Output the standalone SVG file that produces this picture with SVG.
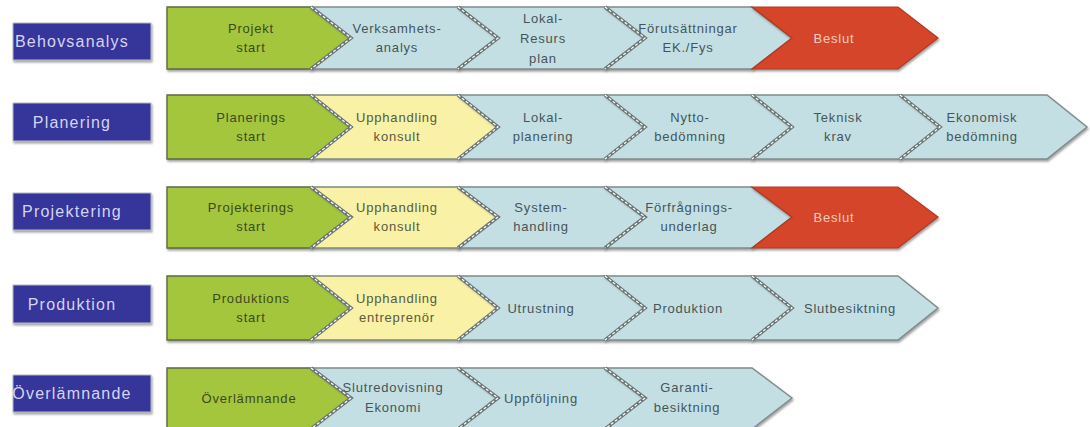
<svg xmlns="http://www.w3.org/2000/svg" width="1090" height="427" viewBox="0 0 1090 427">
<defs>
<filter id="sh" x="-5%" y="-10%" width="115%" height="130%">
<feDropShadow dx="1" dy="2" stdDeviation="0.8" flood-color="#555" flood-opacity="0.55"/>
</filter>
<style>
.lane{fill:#34349a;stroke:#b8b8c8;stroke-width:1;filter:url(#sh)}
.lt{font-family:"Liberation Sans",Arial,sans-serif;font-size:16px;letter-spacing:1.2px;fill:#d4d4f2;text-anchor:middle}
.g{fill:#a4c63c;stroke:#5e6a45;stroke-width:1.4;filter:url(#sh)}
.b{fill:#c4dfe3;stroke:#7f8b8b;stroke-width:1.4;filter:url(#sh)}
.y{fill:#f8f1a6;stroke:#7f8b7b;stroke-width:1.4;filter:url(#sh)}
.r{fill:#d5452a;stroke:#b03a22;stroke-width:1.2;filter:url(#sh)}
.n1{fill:none;stroke:#6c7575;stroke-width:3.5}
.n2{fill:none;stroke:#ffffff;stroke-width:1.2;stroke-dasharray:3 2}
.t{font-family:"Liberation Sans",Arial,sans-serif;font-size:13px;letter-spacing:0.8px;text-anchor:middle}
.tg{fill:#3c4a1e}
.tb{fill:#44555a}
.ty{fill:#5a5a3c}
.tr{fill:#f4cdbd}
</style>
</defs>

<!-- Row 1 -->
<g id="lane-behovsanalys"><rect class="lane" x="13" y="23" width="138" height="37"/><text class="lt" x="72" y="47">Behovsanalys</text></g>
<g id="r1-projektstart"><path class="g" d="M167,7 H311 L351,38 L311,69 H167 Z"/><text class="t tg" x="251"><tspan x="251" y="32.5">Projekt</tspan><tspan x="251" y="52">start</tspan></text></g>
<g id="r1-verksamhetsanalys"><path class="b" d="M311,7 H458 L498,38 L458,69 H311 L351,38 Z"/><polyline class="n1" points="311,7 351,38 311,69"/><polyline class="n2" points="311,7 351,38 311,69"/><text class="t tb"><tspan x="397" y="32.5">Verksamhets-</tspan><tspan x="397" y="52">analys</tspan></text></g>
<g id="r1-lokalresursplan"><path class="b" d="M458,7 H605 L645,38 L605,69 H458 L498,38 Z"/><polyline class="n1" points="458,7 498,38 458,69"/><polyline class="n2" points="458,7 498,38 458,69"/><text class="t tb"><tspan x="543" y="22.5">Lokal-</tspan><tspan x="543" y="42.5">Resurs</tspan><tspan x="543" y="62.5">plan</tspan></text></g>
<g id="r1-forutsattningar"><path class="b" d="M605,7 H752 L792,38 L752,69 H605 L645,38 Z"/><polyline class="n1" points="605,7 645,38 605,69"/><polyline class="n2" points="605,7 645,38 605,69"/><text class="t tb"><tspan x="688" y="32.5">Förutsättningar</tspan><tspan x="688" y="52">EK./Fys</tspan></text></g>
<g id="r1-beslut"><path class="r" d="M752,7 H898 L938,38 L898,69 H752 L792,38 Z"/><text class="t tr" x="834" y="42.5">Beslut</text></g>

<!-- Row 2 -->
<g id="lane-planering"><rect class="lane" x="13" y="103" width="138" height="38"/><text class="lt" x="72" y="127.5">Planering</text></g>
<g id="r2-planeringsstart"><path class="g" d="M167,95 H311 L351,127 L311,159 H167 Z"/><text class="t tg"><tspan x="251" y="121.5">Planerings</tspan><tspan x="251" y="141">start</tspan></text></g>
<g id="r2-upphandlingkonsult"><path class="y" d="M311,95 H458 L498,127 L458,159 H311 L351,127 Z"/><polyline class="n1" points="311,95 351,127 311,159"/><polyline class="n2" points="311,95 351,127 311,159"/><text class="t ty"><tspan x="397" y="121.5">Upphandling</tspan><tspan x="397" y="141">konsult</tspan></text></g>
<g id="r2-lokalplanering"><path class="b" d="M458,95 H605 L645,127 L605,159 H458 L498,127 Z"/><polyline class="n1" points="458,95 498,127 458,159"/><polyline class="n2" points="458,95 498,127 458,159"/><text class="t tb"><tspan x="543" y="121.5">Lokal-</tspan><tspan x="543" y="141">planering</tspan></text></g>
<g id="r2-nyttobedomning"><path class="b" d="M605,95 H752 L792,127 L752,159 H605 L645,127 Z"/><polyline class="n1" points="605,95 645,127 605,159"/><polyline class="n2" points="605,95 645,127 605,159"/><text class="t tb"><tspan x="690" y="121.5">Nytto-</tspan><tspan x="690" y="141">bedömning</tspan></text></g>
<g id="r2-tekniskkrav"><path class="b" d="M752,95 H900 L940,127 L900,159 H752 L792,127 Z"/><polyline class="n1" points="752,95 792,127 752,159"/><polyline class="n2" points="752,95 792,127 752,159"/><text class="t tb"><tspan x="838" y="121.5">Teknisk</tspan><tspan x="838" y="141">krav</tspan></text></g>
<g id="r2-ekonomiskbedomning"><path class="b" d="M900,95 H1047 L1087,127 L1047,159 H900 L940,127 Z"/><polyline class="n1" points="900,95 940,127 900,159"/><polyline class="n2" points="900,95 940,127 900,159"/><text class="t tb"><tspan x="982" y="121.5">Ekonomisk</tspan><tspan x="982" y="141">bedömning</tspan></text></g>

<!-- Row 3 -->
<g id="lane-projektering"><rect class="lane" x="13" y="193" width="138" height="37"/><text class="lt" x="72" y="217">Projektering</text></g>
<g id="r3-projekteringsstart"><path class="g" d="M167,187 H311 L351,217 L311,248 H167 Z"/><text class="t tg"><tspan x="251" y="211.5">Projekterings</tspan><tspan x="251" y="231">start</tspan></text></g>
<g id="r3-upphandlingkonsult"><path class="y" d="M311,187 H458 L498,217 L458,248 H311 L351,217 Z"/><polyline class="n1" points="311,187 351,217 311,248"/><polyline class="n2" points="311,187 351,217 311,248"/><text class="t ty"><tspan x="397" y="211.5">Upphandling</tspan><tspan x="397" y="231">konsult</tspan></text></g>
<g id="r3-systemhandling"><path class="b" d="M458,187 H605 L645,217 L605,248 H458 L498,217 Z"/><polyline class="n1" points="458,187 498,217 458,248"/><polyline class="n2" points="458,187 498,217 458,248"/><text class="t tb"><tspan x="541" y="211.5">System-</tspan><tspan x="541" y="231">handling</tspan></text></g>
<g id="r3-forfragningsunderlag"><path class="b" d="M605,187 H752 L792,217 L752,248 H605 L645,217 Z"/><polyline class="n1" points="605,187 645,217 605,248"/><polyline class="n2" points="605,187 645,217 605,248"/><text class="t tb"><tspan x="689" y="211.5">Förfrågnings-</tspan><tspan x="689" y="231">underlag</tspan></text></g>
<g id="r3-beslut"><path class="r" d="M752,187 H898 L938,217 L898,248 H752 L792,217 Z"/><text class="t tr" x="834" y="221.5">Beslut</text></g>

<!-- Row 4 -->
<g id="lane-produktion"><rect class="lane" x="13" y="285" width="138" height="38"/><text class="lt" x="72" y="309.5">Produktion</text></g>
<g id="r4-produktionsstart"><path class="g" d="M167,276 H311 L351,308 L311,340 H167 Z"/><text class="t tg"><tspan x="251" y="302.5">Produktions</tspan><tspan x="251" y="322">start</tspan></text></g>
<g id="r4-upphandlingentreprenor"><path class="y" d="M311,276 H458 L498,308 L458,340 H311 L351,308 Z"/><polyline class="n1" points="311,276 351,308 311,340"/><polyline class="n2" points="311,276 351,308 311,340"/><text class="t ty"><tspan x="397" y="302.5">Upphandling</tspan><tspan x="397" y="322">entreprenör</tspan></text></g>
<g id="r4-utrustning"><path class="b" d="M458,276 H605 L645,308 L605,340 H458 L498,308 Z"/><polyline class="n1" points="458,276 498,308 458,340"/><polyline class="n2" points="458,276 498,308 458,340"/><text class="t tb" x="541" y="312.5">Utrustning</text></g>
<g id="r4-produktion"><path class="b" d="M605,276 H752 L792,308 L752,340 H605 L645,308 Z"/><polyline class="n1" points="605,276 645,308 605,340"/><polyline class="n2" points="605,276 645,308 605,340"/><text class="t tb" x="688" y="312.5">Produktion</text></g>
<g id="r4-slutbesiktning"><path class="b" d="M752,276 H898 L938,308 L898,340 H752 L792,308 Z"/><polyline class="n1" points="752,276 792,308 752,340"/><polyline class="n2" points="752,276 792,308 752,340"/><text class="t tb" x="850" y="312.5">Slutbesiktning</text></g>

<!-- Row 5 -->
<g id="lane-overlamnande"><rect class="lane" x="13" y="375" width="138" height="37"/><text class="lt" x="72" y="399">Överlämnande</text></g>
<g id="r5-overlamnande"><path class="g" d="M167,368 H311 L351,398 L311,429 H167 Z"/><text class="t tg" x="249" y="402.5">Överlämnande</text></g>
<g id="r5-slutredovisning"><path class="b" d="M311,368 H458 L498,398 L458,429 H311 L351,398 Z"/><polyline class="n1" points="311,368 351,398 311,429"/><polyline class="n2" points="311,368 351,398 311,429"/><text class="t tb"><tspan x="393" y="391.5">Slutredovisning</tspan><tspan x="393" y="412">Ekonomi</tspan></text></g>
<g id="r5-uppfoljning"><path class="b" d="M458,368 H605 L645,398 L605,429 H458 L498,398 Z"/><polyline class="n1" points="458,368 498,398 458,429"/><polyline class="n2" points="458,368 498,398 458,429"/><text class="t tb" x="541" y="402.5">Uppföljning</text></g>
<g id="r5-garantibesiktning"><path class="b" d="M605,368 H752 L792,398 L752,429 H605 L645,398 Z"/><polyline class="n1" points="605,368 645,398 605,429"/><polyline class="n2" points="605,368 645,398 605,429"/><text class="t tb"><tspan x="687" y="391.5">Garanti-</tspan><tspan x="687" y="412">besiktning</tspan></text></g>
</svg>
